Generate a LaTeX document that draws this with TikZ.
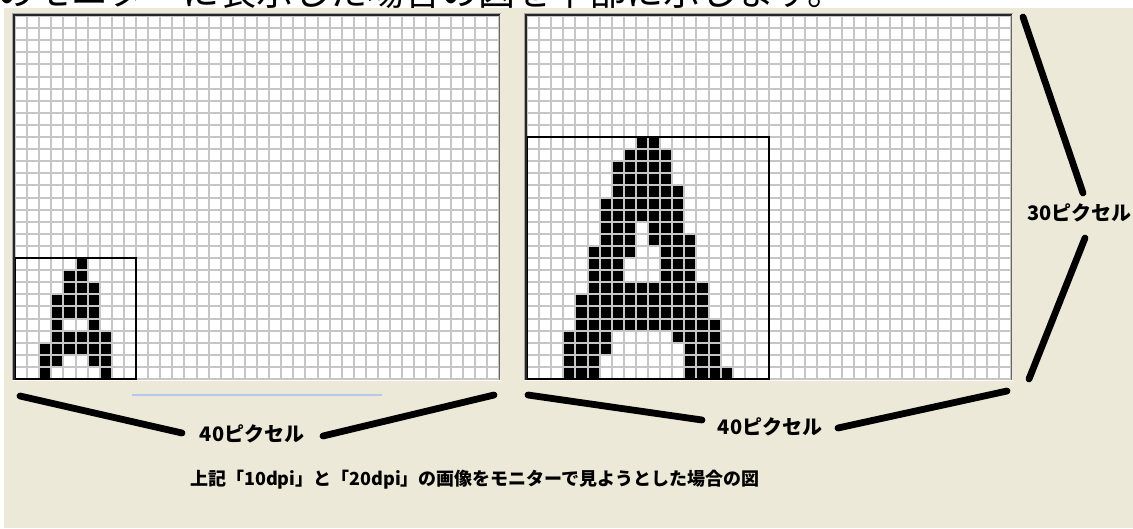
\documentclass[tikz,border=0pt]{standalone}
\usepackage{fontspec}
\newfontfamily\jp{Noto Sans CJK JP}
\definecolor{xpbg}{HTML}{ECE9D8}
\definecolor{gridc}{HTML}{C6C6C6}
\definecolor{scrollb}{HTML}{B4C8EC}
\tikzset{
  gridline/.style={gridc, line width=1.5pt},
  pixel/.style={fill=black},
  abox/.style={draw=black, line width=1.2pt},
  thickline/.style={line width=6.8pt, line cap=round, black},
  lbl/.style={font=\jp\bfseries\fontsize{20}{20}\selectfont, inner sep=0pt},
  captxt/.style={font=\jp\bfseries\fontsize{18}{18}\selectfont, inner sep=0pt},
  toptxt/.style={font=\jp\fontsize{37}{37}\selectfont, inner sep=0pt}
}
\def\cs{12.1}
\newcommand\pixrun[5]{\fill[pixel] ({round(#1+(#4)*\cs)},{round(#2+(#3)*\cs)}) rectangle ({round(#1+(#5+1)*\cs)},{round(#2+(#3+1)*\cs)});}
\newcommand\gridlines[2]{%
  \foreach \i in {0,...,40} {\draw[gridline] ({round(#1+\i*\cs)},#2) -- ({round(#1+\i*\cs)},{#2+363});}
  \foreach \j in {0,...,30} {\draw[gridline] (#1,{round(#2+\j*\cs)}) -- ({#1+484},{round(#2+\j*\cs)});}
}
\newcommand\gframe[2]{%
  \draw[color=gray!70, line width=1pt] ({#1-2.5},{#2+364}) -- ({#1-2.5},{#2-2.5}) -- ({#1+486},{#2-2.5});
  \draw[color=black!85, line width=1.6pt] ({#1-1},{#2+364}) -- ({#1-1},{#2-1}) -- ({#1+485},{#2-1});
  \draw[color=black!60, line width=1pt] ({#1+484.5},{#2-1}) -- ({#1+484.5},{#2+363.5});
  \draw[color=white, line width=1pt] ({#1-2},{#2+364}) -- ({#1+486},{#2+364});
}
\begin{document}
\begin{tikzpicture}[x=1pt,y=-1pt]
\useasboundingbox (0,0) rectangle (1133,528);
\fill[xpbg] (0,0) rectangle (1133,528);
\fill[white] (0,0) rectangle (1133,8);
\fill[white] (0,8) rectangle (4,528);
\begin{scope}
  \clip (0,0) rectangle (1133,8);
  \node[toptxt, anchor=base west] (toptext) at (-3,5) {のモニターに表示した場合の図を下部に示します。};
\end{scope}
% grids
\fill[white] (15,16) rectangle ++(484,363);
\fill[white] (527,16) rectangle ++(484,363);
\foreach \r/\a/\b in {0/5/5, 1/4/5, 2/4/6, 3/3/6, 4/3/6, 5/3/3, 5/6/6, 6/3/7, 7/2/7, 8/2/3, 8/6/7, 9/2/2, 9/7/7}
  {\pixrun{15}{16}{20+\r}{\a}{\b}}
\foreach \r/\a/\b in {0/9/10, 1/8/11, 2/7/11, 3/7/11, 4/7/12, 5/6/12, 6/6/12, 7/6/8, 7/10/12, 8/6/8, 8/10/13, 9/5/8, 9/11/13, 10/5/7, 10/11/13, 11/5/7, 11/11/13, 12/5/14, 13/4/14, 14/4/14, 15/4/15, 16/3/6, 16/12/15, 17/3/6, 17/13/15, 18/3/5, 18/13/15, 19/3/5, 19/13/16}
  {\pixrun{527}{16}{10+\r}{\a}{\b}}
\gridlines{15}{16}
\gridlines{527}{16}
\draw[abox] (15,258) rectangle (136,379);
\draw[abox] (527,137) rectangle (769,379);
\gframe{15}{16}
\gframe{527}{16}
\draw[scrollb, line width=1.2pt] (132,395) -- (382,395);
% labels and lines
\node[lbl] (lbl1) at (252,434) {40ピクセル};
\coordinate (lb1) at (20,396);
\coordinate (lb2) at (182,433);
\coordinate (lb3) at (323,436);
\coordinate (lb4) at (494,395);
\draw[thickline] (lb1) -- (lb2);
\draw[thickline] (lb3) -- (lb4);
\node[lbl] (lbl2) at (770,427) {40ピクセル};
\coordinate (rb1) at (528,395);
\coordinate (rb2) at (702,420);
\coordinate (rb3) at (838,428);
\coordinate (rb4) at (1007,391);
\draw[thickline] (rb1) -- (rb2);
\draw[thickline] (rb3) -- (rb4);
\node[lbl, anchor=east] (lbl3) at (1132,213) {30ピクセル};
\coordinate (v1) at (1023,17);
\coordinate (v2) at (1083,193);
\coordinate (v3) at (1085,238);
\coordinate (v4) at (1029,379);
\draw[thickline] (v1) -- (v2);
\draw[thickline] (v3) -- (v4);
\node[captxt] (caption) at (475,480) {上記「10dpi」と「20dpi」の画像をモニターで見ようとした場合の図};
\end{tikzpicture}
\end{document}
